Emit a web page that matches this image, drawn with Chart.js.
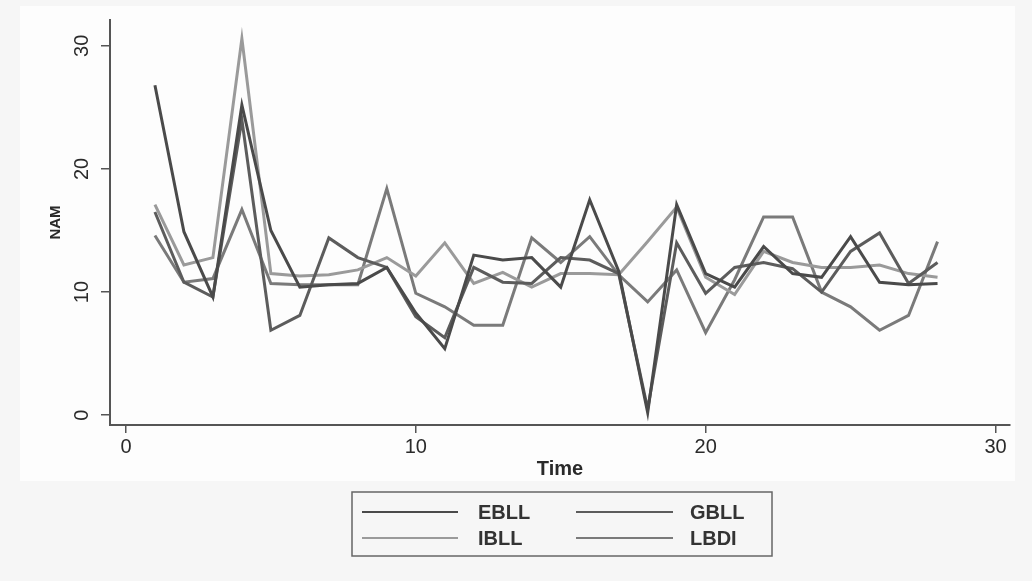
<!DOCTYPE html>
<html>
<head>
<meta charset="utf-8">
<script src="https://cdn.jsdelivr.net/npm/chart.js@4.4.0/dist/chart.umd.min.js"></script>
<style>
  html, body { margin: 0; padding: 0; background: #f6f6f6; }
  #wrap { width: 1032px; height: 581px; }
</style>
</head>
<body>
<div id="wrap"><canvas id="chart" width="1032" height="581"></canvas></div>
<script>
// values
const time = [1, 2, 3, 4, 5, 6, 7, 8, 9, 10, 11, 12, 13, 14, 15, 16, 17, 18, 19, 20, 21, 22, 23, 24, 25, 26, 27, 28];
const ebll = [26.8, 14.9, 9.6, 25.2, 15.0, 10.4, 10.6, 10.7, 12.0, 8.3, 5.4, 13.0, 12.6, 12.8, 10.4, 17.5, 11.7, 0.2, 17.1, 11.5, 10.4, 13.7, 11.5, 11.2, 14.5, 10.8, 10.6, 10.7];
const gbll = [16.5, 10.8, 9.6, 24.0, 6.9, 8.1, 14.4, 12.8, 12.0, 8.0, 6.3, 12.0, 10.8, 10.7, 12.8, 12.6, 11.5, 0.5, 14.0, 9.9, 12.0, 12.4, 11.9, 10.0, 13.3, 14.8, 10.7, 12.4];
const ibll = [17.1, 12.2, 12.8, 30.6, 11.5, 11.3, 11.4, 11.8, 12.8, 11.3, 14.0, 10.7, 11.6, 10.4, 11.5, 11.5, 11.4, 14.1, 16.9, 11.2, 9.8, 13.3, 12.4, 12.0, 12.0, 12.2, 11.5, 11.2];
const lbdi = [14.6, 10.8, 11.1, 16.7, 10.7, 10.6, 10.6, 10.6, 18.4, 9.9, 8.8, 7.3, 7.3, 14.4, 12.4, 14.5, 11.4, 9.2, 11.8, 6.7, 11.0, 16.1, 16.1, 10.0, 8.8, 6.9, 8.1, 14.1];

const seriesNames = ['EBLL', 'GBLL', 'IBLL', 'LBDI'];
const xTicks = [0, 10, 20, 30];
const yTicks = [0, 10, 20, 30];

const FONT = '"Liberation Sans", Arial, sans-serif';
const colors = ['#4a4a4a', '#5c5c5c', '#9a9a9a', '#7a7a7a'];

function pts(vals) {
    return time.map((t, i) => ({ x: t, y: vals[i] }));
}

const bgPlugin = {
    id: 'bg',
    beforeDraw(chart) {
        const ctx = chart.ctx;
        ctx.save();
        ctx.fillStyle = '#f6f6f6';
        ctx.fillRect(0, 0, chart.width, chart.height);
        ctx.fillStyle = '#fdfdfd';
        ctx.fillRect(20, 6, 995, 475);
        ctx.restore();
    }
};

// stata style: vertical y tick labels, y title and a boxed legend under the plot
const extrasPlugin = {
    id: 'extras',
    afterDraw(chart) {
        const ctx = chart.ctx;
        const ys = chart.scales.y;
        ctx.save();
        ctx.fillStyle = '#2a2a2a';
        ctx.font = '20px ' + FONT;
        ctx.textAlign = 'center';
        ctx.textBaseline = 'middle';
        yTicks.forEach(v => {
            const py = ys.getPixelForValue(v);
            ctx.save();
            ctx.translate(82, py);
            ctx.rotate(-Math.PI / 2);
            ctx.fillText(String(v), 0, 0);
            ctx.restore();
        });
        ctx.save();
        ctx.translate(56, (ys.top + ys.bottom) / 2);
        ctx.rotate(-Math.PI / 2);
        ctx.font = 'bold 15px ' + FONT;
        ctx.fillText('NAM', 0, 0);
        ctx.restore();

        // legend
        const bx = 352, by = 492, bw = 420, bh = 64;
        ctx.strokeStyle = '#666';
        ctx.lineWidth = 1.5;
        ctx.strokeRect(bx, by, bw, bh);
        ctx.font = 'bold 20px ' + FONT;
        ctx.textAlign = 'left';
        const cols = [{ lx: 362, lw: 96, tx: 478 }, { lx: 576, lw: 97, tx: 690 }];
        const rows = [512, 538];
        chart.data.datasets.forEach((ds, i) => {
            const c = cols[i % 2];
            const ry = rows[Math.floor(i / 2)];
            ctx.strokeStyle = ds.borderColor;
            ctx.lineWidth = 2;
            ctx.beginPath();
            ctx.moveTo(c.lx, ry);
            ctx.lineTo(c.lx + c.lw, ry);
            ctx.stroke();
            ctx.fillStyle = '#333';
            ctx.fillText(ds.label, c.tx, ry + 1);
        });
        ctx.restore();
    }
};

const datasets = [ebll, gbll, ibll, lbdi].map((vals, i) => ({
    label: seriesNames[i],
    data: pts(vals),
    borderColor: colors[i],
    borderWidth: 3,
    pointRadius: 0,
    tension: 0,
    fill: false
}));

new Chart(document.getElementById('chart').getContext('2d'), {
    type: 'line',
    data: { datasets: datasets },
    options: {
        responsive: false,
        animation: false,
        layout: { padding: { left: 0, top: 20, right: 22, bottom: 100 } },
        plugins: { legend: { display: false }, tooltip: { enabled: false } },
        scales: {
            x: {
                type: 'linear',
                min: -0.55,
                max: 30.5,
                afterBuildTicks: s => { s.ticks = xTicks.map(v => ({ value: v })); },
                afterFit: s => { s.height = 56; },
                grid: { drawOnChartArea: false, drawTicks: true, tickLength: 8, color: '#555', lineWidth: 1.5 },
                border: { display: true, color: '#555', width: 2 },
                ticks: { color: '#2a2a2a', font: { family: FONT, size: 20 }, padding: 2, maxRotation: 0 },
                title: { display: true, text: 'Time', color: '#2a2a2a', font: { family: FONT, size: 20, weight: 'bold' }, padding: { top: 0, bottom: 0 } }
            },
            y: {
                type: 'linear',
                min: -0.8,
                max: 32.1,
                afterBuildTicks: s => { s.ticks = yTicks.map(v => ({ value: v })); },
                afterFit: s => { s.width = 110; },
                grid: { drawOnChartArea: false, drawTicks: true, tickLength: 9, color: '#555', lineWidth: 1.5 },
                border: { display: true, color: '#555', width: 2 },
                ticks: { color: 'rgba(0,0,0,0)', font: { family: FONT, size: 19 } }
            }
        }
    },
    plugins: [bgPlugin, extrasPlugin]
});
</script>
</body>
</html>
